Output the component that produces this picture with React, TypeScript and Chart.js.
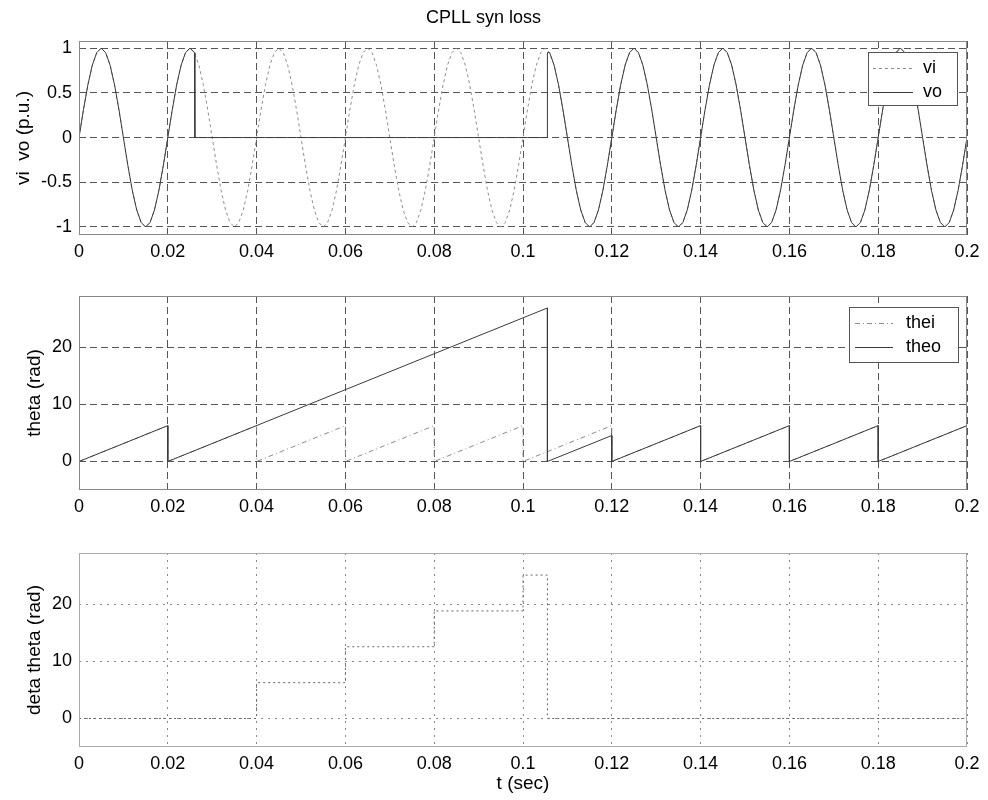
import React, { useEffect, useRef } from 'react';
import { Chart, registerables } from 'chart.js';

Chart.register(...registerables);

// ---------- data ----------
const xTicks = [0, 0.02, 0.04, 0.06, 0.08, 0.1, 0.12, 0.14, 0.16, 0.18, 0.2];
const xTickLabels = ['0', '0.02', '0.04', '0.06', '0.08', '0.1', '0.12', '0.14', '0.16', '0.18', '0.2'];
const vTicks = [-1, -0.5, 0, 0.5, 1];
const vTickLabels = ['-1', '-0.5', '0', '0.5', '1'];
const thetaTicks = [0, 10, 20];
const thetaTickLabels = ['0', '10', '20'];

// samples of vi / vo every 1 ms, from t = 0 to t = 0.2 s
const sampleStep = 0.001;
const vi = [
  0, 0.31, 0.59, 0.81, 0.95, 1, 0.95, 0.81, 0.59, 0.31, 0, -0.31, -0.59, -0.81, -0.95, -1, -0.95, -0.81, -0.59, -0.31,
  0, 0.31, 0.59, 0.81, 0.95, 1, 0.95, 0.81, 0.59, 0.31, 0, -0.31, -0.59, -0.81, -0.95, -1, -0.95, -0.81, -0.59, -0.31,
  0, 0.31, 0.59, 0.81, 0.95, 1, 0.95, 0.81, 0.59, 0.31, 0, -0.31, -0.59, -0.81, -0.95, -1, -0.95, -0.81, -0.59, -0.31,
  0, 0.31, 0.59, 0.81, 0.95, 1, 0.95, 0.81, 0.59, 0.31, 0, -0.31, -0.59, -0.81, -0.95, -1, -0.95, -0.81, -0.59, -0.31,
  0, 0.31, 0.59, 0.81, 0.95, 1, 0.95, 0.81, 0.59, 0.31, 0, -0.31, -0.59, -0.81, -0.95, -1, -0.95, -0.81, -0.59, -0.31,
  0, 0.31, 0.59, 0.81, 0.95, 1, 0.95, 0.81, 0.59, 0.31, 0, -0.31, -0.59, -0.81, -0.95, -1, -0.95, -0.81, -0.59, -0.31,
  0, 0.31, 0.59, 0.81, 0.95, 1, 0.95, 0.81, 0.59, 0.31, 0, -0.31, -0.59, -0.81, -0.95, -1, -0.95, -0.81, -0.59, -0.31,
  0, 0.31, 0.59, 0.81, 0.95, 1, 0.95, 0.81, 0.59, 0.31, 0, -0.31, -0.59, -0.81, -0.95, -1, -0.95, -0.81, -0.59, -0.31,
  0, 0.31, 0.59, 0.81, 0.95, 1, 0.95, 0.81, 0.59, 0.31, 0, -0.31, -0.59, -0.81, -0.95, -1, -0.95, -0.81, -0.59, -0.31,
  0, 0.31, 0.59, 0.81, 0.95, 1, 0.95, 0.81, 0.59, 0.31, 0, -0.31, -0.59, -0.81, -0.95, -1, -0.95, -0.81, -0.59, -0.31,
  0,
];
const vo = [
  0, 0.31, 0.59, 0.81, 0.95, 1, 0.95, 0.81, 0.59, 0.31, 0, -0.31, -0.59, -0.81, -0.95, -1, -0.95, -0.81, -0.59, -0.31,
  0, 0.31, 0.59, 0.81, 0.95, 1, 0.95,
  0, 0, 0, 0, 0, 0, 0, 0, 0, 0,
  0, 0, 0, 0, 0, 0, 0, 0, 0, 0,
  0, 0, 0, 0, 0, 0, 0, 0, 0, 0,
  0, 0, 0, 0, 0, 0, 0, 0, 0, 0,
  0, 0, 0, 0, 0, 0, 0, 0, 0, 0,
  0, 0, 0, 0, 0, 0, 0, 0, 0, 0,
  0, 0, 0, 0, 0, 0, 0, 0, 0, 0,
  0, 0, 0, 0, 0, 0, 0, 0, 0,
  0.95, 0.81, 0.59, 0.31, 0, -0.31, -0.59, -0.81, -0.95, -1, -0.95, -0.81, -0.59, -0.31,
  0, 0.31, 0.59, 0.81, 0.95, 1, 0.95, 0.81, 0.59, 0.31, 0, -0.31, -0.59, -0.81, -0.95, -1, -0.95, -0.81, -0.59, -0.31,
  0, 0.31, 0.59, 0.81, 0.95, 1, 0.95, 0.81, 0.59, 0.31, 0, -0.31, -0.59, -0.81, -0.95, -1, -0.95, -0.81, -0.59, -0.31,
  0, 0.31, 0.59, 0.81, 0.95, 1, 0.95, 0.81, 0.59, 0.31, 0, -0.31, -0.59, -0.81, -0.95, -1, -0.95, -0.81, -0.59, -0.31,
  0, 0.31, 0.59, 0.81, 0.95, 1, 0.95, 0.81, 0.59, 0.31, 0, -0.31, -0.59, -0.81, -0.95, -1, -0.95, -0.81, -0.59, -0.31,
  0,
];
// vertical switching edges of vo
const voEdgeT = [0.0261, 0.1055, 0.1055];
const voEdgeV = [0, 0, 0.95];

const theiT = [0, 0.02, 0.02, 0.04, 0.04, 0.06, 0.06, 0.08, 0.08, 0.1, 0.1, 0.12, 0.12, 0.14, 0.14, 0.16, 0.16, 0.18, 0.18, 0.2, 0.2];
const theiV = [0, 6.28, 0, 6.28, 0, 6.28, 0, 6.28, 0, 6.28, 0, 6.28, 0, 6.28, 0, 6.28, 0, 6.28, 0, 6.28, 0];
const theoT = [0, 0.02, 0.02, 0.1055, 0.1055, 0.12, 0.12, 0.14, 0.14, 0.16, 0.16, 0.18, 0.18, 0.2, 0.2];
const theoV = [0, 6.28, 0, 26.9, 0, 4.55, 0, 6.28, 0, 6.28, 0, 6.28, 0, 6.28, 0];
const dthetaT = [0, 0.04, 0.04, 0.06, 0.06, 0.08, 0.08, 0.1, 0.1, 0.1055, 0.1055, 0.2];
const dthetaV = [0, 0, 6.28, 6.28, 12.57, 12.57, 18.85, 18.85, 25.13, 25.13, 0, 0];

// ---------- helpers ----------
const gridPoints = (values: number[]) =>
  values.map((v, i) => ({ x: Math.round(i * sampleStep * 10000) / 10000, y: v }));
const pairPoints = (ts: number[], vs: number[]) => ts.map((t, i) => ({ x: t, y: vs[i] }));
const mergeSorted = (a: any[], b: any[]) => [...a, ...b].sort((p, q) => p.x - q.x);

const FONT = "'Liberation Sans', Arial, Helvetica, sans-serif";
Chart.defaults.font.family = FONT;
Chart.defaults.color = '#000';

const axesBoxPlugin = {
  id: 'axesBox',
  afterDatasetsDraw(chart: any, _args: any, opts: any) {
    const { ctx, chartArea: a } = chart;
    ctx.save();
    ctx.strokeStyle = opts.color || '#777';
    ctx.lineWidth = 1;
    ctx.setLineDash(opts.dash || []);
    ctx.strokeRect(a.left + 0.5, a.top + 0.5, a.right - a.left - 1, a.bottom - a.top - 1);
    ctx.restore();
  },
};

const boxLegendPlugin = {
  id: 'boxLegend',
  afterDraw(chart: any, _args: any, opts: any) {
    if (!opts || !opts.rect) return;
    const { ctx } = chart;
    const [x, y, w, h] = opts.rect;
    ctx.save();
    ctx.fillStyle = '#fff';
    ctx.fillRect(x, y, w, h);
    ctx.strokeStyle = '#555';
    ctx.lineWidth = 1;
    ctx.setLineDash([]);
    ctx.strokeRect(x + 0.5, y + 0.5, w, h);
    ctx.font = `18px ${FONT}`;
    ctx.textBaseline = 'middle';
    ctx.textAlign = 'left';
    chart.data.datasets.forEach((ds: any, i: number) => {
      const ry = opts.rowY[i];
      ctx.strokeStyle = ds.borderColor;
      ctx.lineWidth = ds.borderWidth || 1;
      ctx.setLineDash(ds.borderDash || []);
      ctx.beginPath();
      ctx.moveTo(opts.lineX[0], ry + 0.5);
      ctx.lineTo(opts.lineX[1], ry + 0.5);
      ctx.stroke();
      ctx.fillStyle = '#000';
      ctx.fillText(ds.label, opts.textX, ry);
    });
    ctx.restore();
  },
};

Chart.register(axesBoxPlugin, boxLegendPlugin);

function panelConfig(p: any) {
  const tickFont = { size: 18, family: FONT };
  return {
    type: 'line',
    data: { datasets: p.datasets },
    options: {
      responsive: false,
      animation: false,
      events: [],
      layout: { padding: { top: p.padTop, right: 21, left: 0, bottom: 0 } },
      plugins: {
        legend: { display: false },
        tooltip: { enabled: false },
        title: p.title
          ? {
              display: true,
              text: p.title,
              color: '#000',
              font: { size: 18, weight: 'normal', family: FONT },
              padding: { top: 7, bottom: 12.4 },
            }
          : { display: false },
        axesBox: { color: p.boxColor },
        boxLegend: p.legend || {},
      },
      scales: {
        x: {
          type: 'linear',
          min: 0,
          max: 0.2,
          afterFit: (s: any) => {
            s.height = p.xAxisHeight;
          },
          afterBuildTicks: (s: any) => {
            s.ticks = xTicks.map((v) => ({ value: v }));
          },
          ticks: {
            autoSkip: false,
            maxRotation: 0,
            padding: 6,
            color: '#000',
            font: tickFont,
            callback: (_v: any, i: number) => xTickLabels[i],
          },
          grid: { color: p.gridColor, lineWidth: 1, drawTicks: false },
          border: { display: false, dash: p.gridDash },
          title: p.xTitle
            ? { display: true, text: p.xTitle, color: '#000', font: { size: 19, family: FONT }, padding: { top: 0, bottom: 5 } }
            : { display: false },
        },
        y: {
          type: 'linear',
          min: p.yMin,
          max: p.yMax,
          afterFit: (s: any) => {
            s.width = 79;
          },
          afterBuildTicks: (s: any) => {
            s.ticks = p.yTicks.map((v: number) => ({ value: v }));
          },
          ticks: {
            autoSkip: false,
            padding: 7,
            color: '#000',
            font: tickFont,
            callback: (_v: any, i: number) => p.yTickLabels[i],
          },
          grid: { color: p.gridColor, lineWidth: 1, drawTicks: false },
          border: { display: false, dash: p.gridDash },
          title: {
            display: true,
            text: p.yTitle,
            color: '#000',
            font: { size: 19, family: FONT },
            padding: { top: p.yTitlePad, bottom: 0 },
          },
        },
      },
    },
  };
}

function lineDs(label: string, data: any[], color: string, dash: number[], order: number, width = 1) {
  return {
    label,
    data,
    borderColor: color,
    borderWidth: width,
    borderDash: dash,
    pointRadius: 0,
    fill: false,
    tension: 0,
    order,
  };
}

function ChartCanvas({ top, height, build }: { top: number; height: number; build: () => any }) {
  const ref = useRef<HTMLCanvasElement | null>(null);
  useEffect(() => {
    const chart = new Chart(ref.current as HTMLCanvasElement, build());
    return () => chart.destroy();
  }, []);
  return (
    <canvas
      ref={ref}
      width={988}
      height={height}
      style={{ position: 'absolute', left: 0, top, width: 988, height, display: 'block' }}
    />
  );
}

const buildVoltage = () =>
  panelConfig({
    title: 'CPLL syn loss',
    padTop: 0,
    xAxisHeight: 27,
    yMin: -1.09,
    yMax: 1.08,
    yTicks: vTicks,
    yTickLabels: vTickLabels,
    yTitle: 'vi  vo (p.u.)',
    yTitlePad: 12.5,
    gridColor: '#555',
    gridDash: [7, 4],
    boxColor: '#888',
    legend: { rect: [868, 52, 89, 53], rowY: [68, 92], lineX: [873, 913], textX: 923 },
    datasets: [
      lineDs('vi', gridPoints(vi), '#8c8c8c', [3, 3], 1),
      lineDs('vo', mergeSorted(gridPoints(vo), pairPoints(voEdgeT, voEdgeV)), '#3a3a3a', [], 0),
    ],
  });

const buildTheta = () =>
  panelConfig({
    padTop: 34,
    xAxisHeight: 34,
    yMin: -5,
    yMax: 29,
    yTicks: thetaTicks,
    yTickLabels: thetaTickLabels,
    yTitle: 'theta (rad)',
    yTitlePad: 23.5,
    gridColor: '#555',
    gridDash: [7, 4],
    boxColor: '#888',
    legend: { rect: [849, 45, 109, 55], rowY: [61, 85], lineX: [855, 893], textX: 906 },
    datasets: [
      lineDs('thei', pairPoints(theiT, theiV), '#8a8a8a', [5, 3, 1, 3], 1),
      lineDs('theo', pairPoints(theoT, theoV), '#3a3a3a', [], 0),
    ],
  });

const buildDelta = () =>
  panelConfig({
    padTop: 29,
    xAxisHeight: 53,
    yMin: -5,
    yMax: 29,
    yTicks: thetaTicks,
    yTickLabels: thetaTickLabels,
    yTitle: 'deta theta (rad)',
    yTitlePad: 23.5,
    xTitle: 't (sec)',
    gridColor: '#888',
    gridDash: [2, 5],
    boxColor: '#aaa',
    datasets: [lineDs('deta theta', pairPoints(dthetaT, dthetaV), '#666', [2, 3], 0)],
  });

export default function App() {
  return (
    <div style={{ position: 'absolute', left: 0, top: 0, width: 988, height: 800, background: '#fff' }}>
      <ChartCanvas top={0} height={262} build={buildVoltage} />
      <ChartCanvas top={262} height={262} build={buildTheta} />
      <ChartCanvas top={524} height={276} build={buildDelta} />
    </div>
  );
}
